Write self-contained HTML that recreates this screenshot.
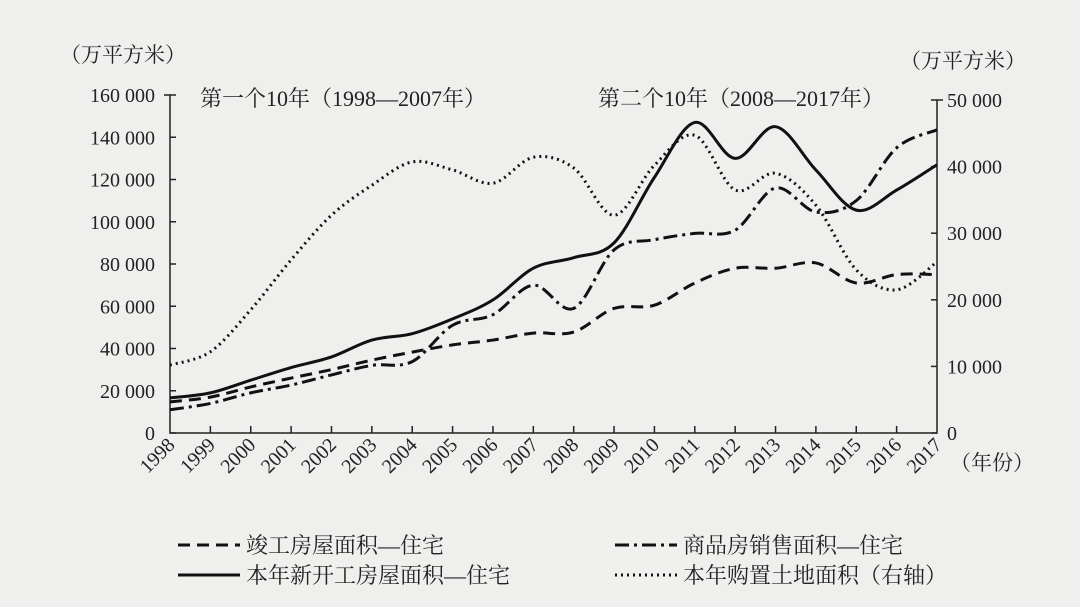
<!DOCTYPE html>
<html><head><meta charset="utf-8">
<style>
body{margin:0;background:#efefed;}
svg{display:block;font-family:"Liberation Serif","Noto Serif CJK SC",serif;}
</style></head>
<body>
<svg id="c" width="1080" height="607" viewBox="0 0 1080 607"></svg>
<script>
const years=[1998,1999,2000,2001,2002,2003,2004,2005,2006,2007,2008,2009,2010,2011,2012,2013,2014,2015,2016,2017];
const newStarts=[16600,19000,25000,31000,36000,44000,47000,54000,63000,78000,83000,90000,121000,147000,130000,145000,124500,105500,115000,127000];
const sales=[11000,14000,19000,22700,27500,32000,33800,51000,56000,70000,59000,86700,91500,94500,96000,116000,104600,110000,135000,143500];
const completed=[14700,17000,21800,26000,30000,34500,38300,41700,44000,47300,47800,59000,60500,71000,78000,78000,80500,71000,75000,75000];
const land=[10200,12200,18500,26000,32700,37200,40700,39500,37500,41400,39800,32700,40200,44700,36500,39000,34200,24500,21500,25700];
const leftTicks=[0,20000,40000,60000,80000,100000,120000,140000,160000];
const rightTicks=[0,10000,20000,30000,40000,50000];

const NS="http://www.w3.org/2000/svg";
const svg=document.getElementById('c');
const X0=170,X1=937,Y0=433,YT=95;
const x=i=>X0+(X1-X0)*i/(years.length-1);
const yL=v=>Y0-(Y0-YT)*v/160000;
const yR=v=>Y0-(Y0-100)*v/50000;
function el(t,a,txt){const e=document.createElementNS(NS,t);for(const k in a)e.setAttribute(k,a[k]);if(txt!==undefined)e.textContent=txt;svg.appendChild(e);return e;}
function fmt(v){if(v===0)return "0";const s=String(v);return s.slice(0,s.length-3)+" "+s.slice(-3);}
// axes
let a=el('path',{d:`M${X0-6},${YT} H${X0} V${Y0} H${X1} V100 H${X1+6}`,fill:'none',stroke:'#222','stroke-width':1.5});


leftTicks.forEach(v=>{
  const y=yL(v);
  let t=el('line',{x1:X0,x2:X0+6,y1:y,y2:y,stroke:'#222','stroke-width':1.5});
  
  
  let l=el('text',{x:155,y:y+7,'text-anchor':'end','font-size':20,fill:'#222'},fmt(v));
  
  
});
rightTicks.forEach(v=>{
  const y=yR(v);
  let t=el('line',{x1:X1-6,x2:X1,y1:y,y2:y,stroke:'#222','stroke-width':1.5});
  
  
  let l=el('text',{x:947,y:y+7,'font-size':20,fill:'#222'},fmt(v));
  
  
});
years.forEach((yr,i)=>{
  if(i>0&&i<years.length-1){
    let t=el('line',{x1:x(i),x2:x(i),y1:Y0,y2:Y0-7,stroke:'#222','stroke-width':1.5});
    
    
  }
  let l=el('text',{x:x(i)+6,y:446,'text-anchor':'end','font-size':20,fill:'#222',transform:`rotate(-45 ${x(i)+6} 446)`},String(yr));
  
  
});
function smooth(pts){
  let d=`M${pts[0][0]},${pts[0][1]}`;
  for(let i=0;i<pts.length-1;i++){
    const p0=pts[Math.max(i-1,0)],p1=pts[i],p2=pts[i+1],p3=pts[Math.min(i+2,pts.length-1)];
    d+=` C${p1[0]+(p2[0]-p0[0])/6},${p1[1]+(p2[1]-p0[1])/6} ${p2[0]-(p3[0]-p1[0])/6},${p2[1]-(p3[1]-p1[1])/6} ${p2[0]},${p2[1]}`;
  }
  return d;
}
function series(vals,fy,dash,w,name){
  const p=el('path',{d:smooth(vals.map((v,i)=>[x(i),fy(v)])),fill:'none',stroke:'#111','stroke-width':w,'stroke-dasharray':dash});
  
  
}
series(land,yR,'2 4',3,'land-line');
series(completed,yL,'12 7',3,'completed-line');
series(sales,yL,'14 5 3 5',3,'sales-line');
series(newStarts,yL,'none',3,'new-starts-line');
function txt(xx,yy,s,name,size){let t=el('text',{x:xx,y:yy,'font-size':size||21,fill:'#222'},s);}
txt(60,62,'（万平方米）','left-axis-unit');
txt(900,68,'（万平方米）','right-axis-unit');
txt(200,106,'第一个10年（1998—2007年）','period-one-label',22);
txt(598,106,'第二个10年（2008—2017年）','period-two-label',22);
txt(950,470,'（年份）','x-axis-unit');
function leg(x1,y,dash,label,name){
  let l=el('line',{x1:x1,x2:x1+62,y1:y,y2:y,stroke:'#111','stroke-width':3,'stroke-dasharray':dash});
  
  
  txt(x1+68,y+8,label,name,22);
}
leg(178,545,'12 7','竣工房屋面积—住宅','legend-completed');
leg(615,545,'14 5 3 5','商品房销售面积—住宅','legend-sales');
leg(178,575,'none','本年新开工房屋面积—住宅','legend-new-starts');
leg(615,575,'2 4','本年购置土地面积（右轴）','legend-land');
</script>
</body></html>
